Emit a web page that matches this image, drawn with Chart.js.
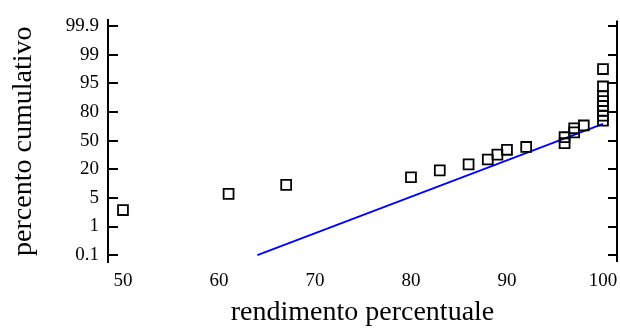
<!DOCTYPE html>
<html lang="it">
<head>
    <meta charset="UTF-8">
    <title>Rendimento percentuale</title>
    <script src="https://cdn.jsdelivr.net/npm/chart.js"></script>
    <style>
        body { margin: 0; background: #fff; }
        .grafico { width: 620px; height: 329px; }
    </style>
</head>
<body>
    <div class="grafico"><canvas id="myChart"></canvas></div>
<script>
    // etichette della scala di probabilita' (una per ogni tacca)
    const etichetteY = ['0.1', '1', '5', '20', '50', '80', '95', '99', '99.9'];
    const percentiTacche = [0.1, 1, 5, 20, 50, 80, 95, 99, 99.9];
    const tacchePosX = [50, 60, 70, 80, 90, 100];

    // dati osservati
    const rendimento = [50, 61, 67, 80, 83, 86, 88, 89, 90, 92, 96, 96, 97, 97, 98,
        100, 100, 100, 100, 100, 100, 100, 100];
    const percento = [3.3, 7.1, 11.8, 15.8, 19.4, 25.1, 30.2, 35.3, 40.4, 43.4, 47.3, 53.6,
        58.7, 62.9, 65.9, 71, 76.1, 80.6, 83.2, 85.7, 88.3, 93.4, 97];

    // retta teorica
    const rettaX = [64, 100];
    const rettaY = [0.1, 67.5];

    // percento -> posizione sull'asse (tacche equidistanti, interpolazione tra tacche)
    function posizione(p) {
        for (let i = 0; i < percentiTacche.length - 1; i++) {
            const a = percentiTacche[i], b = percentiTacche[i + 1];
            if (p <= b || i == percentiTacche.length - 2) {
                return i + (p - a) / (b - a);
            }
        }
    }

    const punti = rendimento.map((x, i) => ({ x: x, y: posizione(percento[i]) }));
    const retta = rettaX.map((x, i) => ({ x: x, y: posizione(rettaY[i]) }));

    const font = 'Liberation Serif, Times New Roman, serif';

    // tacche interne su entrambi i lati + bordo destro
    const taccheInterne = {
        id: 'taccheInterne',
        afterDraw(chart) {
            const ctx = chart.ctx;
            const a = chart.chartArea;
            const sy = chart.scales.y;
            ctx.save();
            ctx.strokeStyle = '#000';
            ctx.lineWidth = 2;
            ctx.beginPath();
            ctx.moveTo(a.right, a.top);
            ctx.lineTo(a.right, a.bottom);
            sy.ticks.forEach(t => {
                const py = Math.round(sy.getPixelForValue(t.value));
                ctx.moveTo(a.left, py);
                ctx.lineTo(a.left + 10, py);
                ctx.moveTo(a.right, py);
                ctx.lineTo(a.right - 9, py);
            });
            ctx.stroke();
            ctx.restore();
        }
    };

    const config = {
        type: 'scatter',
        data: {
            datasets: [
                {
                    label: 'osservati',
                    data: punti,
                    pointStyle: 'rect',
                    pointRadius: 7,
                    pointBorderWidth: 1.8,
                    pointBorderColor: '#000',
                    pointBackgroundColor: 'rgba(0,0,0,0)'
                },
                {
                    label: 'retta',
                    type: 'line',
                    data: retta,
                    borderColor: '#0000ff',
                    borderWidth: 1.8,
                    pointRadius: 0,
                    fill: false
                }
            ]
        },
        options: {
            responsive: true,
            maintainAspectRatio: false,
            animation: false,
            layout: { autoPadding: false, padding: { top: 14, right: 3, left: 0, bottom: 0 } },
            plugins: { legend: { display: false }, tooltip: { enabled: false } },
            scales: {
                x: {
                    type: 'linear',
                    min: 48.44,
                    max: 101.46,
                    afterBuildTicks: s => { s.ticks = tacchePosX.map(v => ({ value: v })); },
                    afterFit: s => { s.height = 67; s.paddingLeft = 0; s.paddingRight = 0; },
                    border: { display: false },
                    grid: { display: false, tickLength: 0 },
                    ticks: { color: '#000', font: { family: font, size: 19 }, padding: 8, maxRotation: 0 },
                    title: { display: true, text: 'rendimento percentuale', color: '#000',
                        font: { family: font, size: 28 }, padding: { top: 0, bottom: 0 } }
                },
                y: {
                    type: 'linear',
                    min: -0.24,
                    max: 8.2,
                    afterBuildTicks: s => { s.ticks = etichetteY.map((e, i) => ({ value: i })); },
                    afterFit: s => { s.width = 108; },
                    border: { display: true, color: '#000', width: 2 },
                    grid: { display: false, tickLength: 0 },
                    ticks: { color: '#000', font: { family: font, size: 19 }, padding: 9,
                        callback: (v) => etichetteY[v] },
                    title: { display: true, text: 'percento cumulativo', color: '#000',
                        font: { family: font, size: 28 }, padding: { top: 7, bottom: 0 } }
                }
            }
        },
        plugins: [taccheInterne]
    };

    let myChart = new Chart(document.getElementById('myChart'), config);
</script>
</body>
</html>
